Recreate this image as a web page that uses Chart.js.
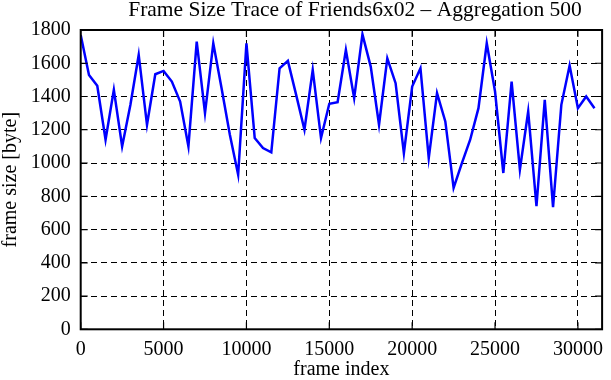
<!DOCTYPE html>
<html>
<head>
<meta charset="utf-8">
<script src="https://cdn.jsdelivr.net/npm/chart.js@4"></script>
<style>
  html, body { margin: 0; padding: 0; background: #fff; }
  #wrap { width: 611px; height: 380px; }
</style>
</head>
<body>
<div id="wrap"><canvas id="traceChart" width="611" height="380"></canvas></div>
<script>
// frame index (every 500 frames) and aggregated frame size in bytes
const frameIndex = [
  0, 500, 1000, 1500, 2000, 2500, 3000, 3500, 4000, 4500,
  5000, 5500, 6000, 6500, 7000, 7500, 8000, 8500, 9000, 9500,
  10000, 10500, 11000, 11500, 12000, 12500, 13000, 13500, 14000, 14500,
  15000, 15500, 16000, 16500, 17000, 17500, 18000, 18500, 19000, 19500,
  20000, 20500, 21000, 21500, 22000, 22500, 23000, 23500, 24000, 24500,
  25000, 25500, 26000, 26500, 27000, 27500, 28000, 28500, 29000, 29500,
  30000, 30500, 31000
];
const frameSize = [
  1770, 1530, 1464, 1140, 1440, 1100, 1350, 1650, 1230, 1534,
  1554, 1490, 1370, 1100, 1730, 1300, 1720, 1450, 1170, 930,
  1720, 1150, 1090, 1064, 1570, 1614, 1410, 1200, 1560, 1150,
  1356, 1366, 1680, 1390, 1774, 1580, 1230, 1630, 1480, 1060,
  1460, 1570, 1030, 1420, 1250, 850, 1000, 1140, 1330, 1720,
  1430, 940, 1490, 960, 1310, 740, 1380, 734, 1350, 1586,
  1330, 1400, 1330
];
const xTicks = [0, 5000, 10000, 15000, 20000, 25000, 30000];
const yTicks = [0, 200, 400, 600, 800, 1000, 1200, 1400, 1600, 1800];

const serif = "'Liberation Serif', 'DejaVu Serif', serif";

// box around the plot plus the short inward ticks on all four sides
const frameBox = {
  id: 'frameBox',
  afterLayout(chart) {
    // title sits a little right of the canvas centre in the original
    if (chart.titleBlock) {
      chart.titleBlock.left = 101;
      chart.titleBlock.right = 609;
    }
  },
  afterDraw(chart) {
    const { ctx, chartArea: a, scales } = chart;
    ctx.save();
    ctx.strokeStyle = '#000';
    ctx.lineWidth = 1.2;
    ctx.beginPath();
    scales.x.ticks.forEach(t => {
      const px = scales.x.getPixelForValue(t.value);
      ctx.moveTo(px, a.bottom); ctx.lineTo(px, a.bottom - 7);
      ctx.moveTo(px, a.top); ctx.lineTo(px, a.top + 7);
    });
    scales.y.ticks.forEach(t => {
      const py = scales.y.getPixelForValue(t.value);
      ctx.moveTo(a.left, py); ctx.lineTo(a.left + 7, py);
      ctx.moveTo(a.right, py); ctx.lineTo(a.right - 7, py);
    });
    ctx.stroke();
    ctx.lineWidth = 2;
    ctx.strokeRect(a.left, a.top, a.right - a.left, a.bottom - a.top);
    ctx.restore();
  }
};

new Chart(document.getElementById('traceChart').getContext('2d'), {
  type: 'line',
  data: {
    datasets: [{
      data: frameIndex.map((x, i) => ({ x: x, y: frameSize[i] })),
      borderColor: '#0000ff',
      borderWidth: 2.5,
      pointRadius: 0,
      tension: 0,
      fill: false
    }]
  },
  options: {
    responsive: false,
    animation: false,
    layout: { padding: { left: 0, right: 2, top: 0, bottom: 0 } },
    plugins: {
      legend: { display: false },
      tooltip: { enabled: false },
      title: {
        display: true,
        text: 'Frame Size Trace of Friends6x02 – Aggregation 500',
        color: '#000',
        font: { family: serif, size: 21.5, weight: 'normal', lineHeight: 1 },
        padding: { top: 0, bottom: 8.5 }
      }
    },
    scales: {
      x: {
        type: 'linear',
        min: 0,
        max: 31460,
        afterBuildTicks: s => { s.ticks = xTicks.map(v => ({ value: v })); },
        afterFit: s => { s.height = 50.7; },
        grid: { color: '#000', lineWidth: 1, drawTicks: false },
        border: { display: false, dash: [6, 4] },
        ticks: {
          color: '#000', padding: 8, maxRotation: 0,
          font: { family: serif, size: 20 },
          callback: v => String(v)
        },
        title: {
          display: true,
          text: 'frame index',
          color: '#000',
          font: { family: serif, size: 20, lineHeight: 1 },
          padding: { top: 0, bottom: 0 }
        }
      },
      y: {
        min: 0,
        max: 1800,
        afterBuildTicks: s => { s.ticks = yTicks.map(v => ({ value: v })); },
        afterFit: s => { s.width = 80.7; },
        grid: { color: '#000', lineWidth: 1, drawTicks: false },
        border: { display: false, dash: [6, 4] },
        ticks: {
          color: '#000', padding: 10,
          font: { family: serif, size: 20 },
          callback: v => String(v)
        },
        title: {
          display: true,
          text: 'frame size [byte]',
          color: '#000',
          font: { family: serif, size: 20, lineHeight: 1 },
          padding: { top: 1, bottom: 0 }
        }
      }
    }
  },
  plugins: [frameBox]
});
</script>
</body>
</html>
